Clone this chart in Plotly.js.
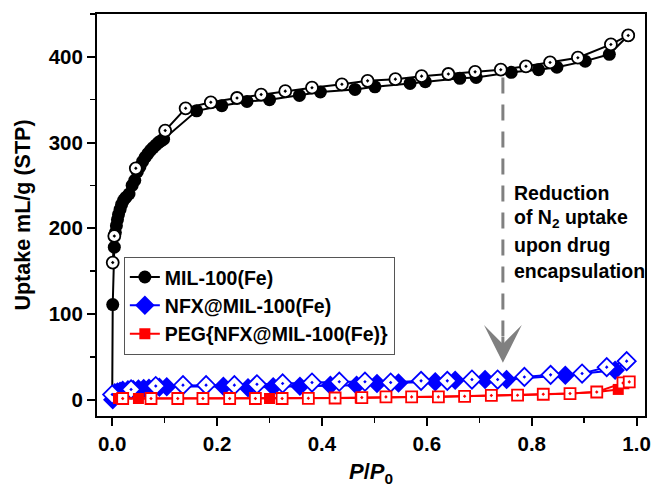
<!DOCTYPE html>
<html>
<head>
<meta charset="utf-8">
<script src="https://cdn.plot.ly/plotly-3.0.1.min.js"></script>
<style>body{margin:0;padding:0;background:#fff;}#chart{width:651px;height:487px;}</style>
</head>
<body>
<div id="chart"></div>
<script>
// MIL-100(Fe): adsorption (filled) and desorption (open)
const milAdsX = [0.0, 0.001, 0.004, 0.006, 0.008, 0.010, 0.012, 0.015, 0.018, 0.022, 0.026, 0.032, 0.038, 0.043, 0.048, 0.053, 0.058, 0.063, 0.068, 0.073, 0.078, 0.083, 0.088, 0.093, 0.098, 0.161, 0.209, 0.257, 0.300, 0.357, 0.397, 0.463, 0.501, 0.568, 0.597, 0.663, 0.694, 0.761, 0.813, 0.848, 0.902, 0.948, 0.984];
const milAdsY = [2, 111, 178, 195, 203, 210, 216, 222, 228, 233, 236, 240, 250, 256, 266, 272, 278, 283, 287, 291, 294, 297, 300, 302, 304, 337, 343, 348, 350, 355, 359, 362, 365, 369, 371, 375, 376, 382, 385, 388, 395, 403, 425];
const milDesX = [0.001, 0.004, 0.045, 0.101, 0.140, 0.188, 0.238, 0.284, 0.330, 0.381, 0.438, 0.487, 0.540, 0.590, 0.641, 0.692, 0.741, 0.789, 0.835, 0.888, 0.951, 0.984];
const milDesY = [160, 191, 270, 314, 340, 347, 352, 356, 360, 364, 368, 372, 374, 377.5, 380, 382.5, 385, 389, 393.5, 399, 414.5, 425];

// NFX@MIL-100(Fe)
const nfxAdsX = [0.001, 0.005, 0.010, 0.015, 0.020, 0.030, 0.040, 0.050, 0.060, 0.070, 0.080, 0.090, 0.104, 0.212, 0.259, 0.307, 0.358, 0.416, 0.466, 0.505, 0.546, 0.616, 0.654, 0.711, 0.752, 0.864, 0.959, 0.981];
const nfxAdsY = [0, 8, 9, 10, 11, 11.5, 12, 12.5, 13, 13.5, 14, 14.5, 15, 15.7, 14, 15, 15.7, 17, 17, 19, 19.6, 21, 22.7, 23.5, 23.5, 28.6, 34.4, 45];
const nfxDesX = [0.0, 0.036, 0.083, 0.135, 0.179, 0.233, 0.276, 0.325, 0.381, 0.433, 0.482, 0.531, 0.589, 0.639, 0.686, 0.735, 0.786, 0.836, 0.896, 0.943, 0.981];
const nfxDesY = [6, 12, 16, 17, 17, 17, 18, 19, 20, 21, 21, 20, 22, 22, 23.5, 23.5, 26.6, 29, 30.5, 38, 45];

// PEG{NFX@MIL-100(Fe)}
const pegAdsX = [0.012, 0.050, 0.125, 0.224, 0.300, 0.374, 0.473, 0.571, 0.672, 0.773, 0.873, 0.924, 0.965, 0.985];
const pegAdsY = [1.4, 1.4, 1.4, 1.4, 1.4, 1.6, 2, 3.3, 4, 5.3, 7.2, 9, 12, 20];
const pegDesX = [0.020, 0.074, 0.125, 0.173, 0.224, 0.273, 0.324, 0.374, 0.425, 0.476, 0.522, 0.571, 0.622, 0.672, 0.723, 0.773, 0.822, 0.873, 0.924, 0.974, 0.986];
const pegDesY = [1.4, 1.4, 1.4, 1.4, 1.4, 1.4, 1.4, 1.6, 2, 2.5, 3.3, 3.3, 3.3, 4, 5, 5.3, 6.4, 7.2, 9, 19.6, 20.8];

const seriesNames = ['MIL-100(Fe)', 'NFX@MIL-100(Fe)', 'PEG{NFX@MIL-100(Fe)}'];
const annotationLines = ['Reduction', 'of N<sub>2</sub> uptake', 'upon drug', 'encapsulation'];
const annotationY = [241, 211, 180, 150];
const arrowX = 0.745, arrowTopY = 376, arrowTipY = 43;

const FONT = 'Arial, "Liberation Sans", Helvetica, sans-serif';

function filled(x, y, name, color, symbol, size) {
  return {x, y, name, type: 'scatter', mode: 'lines+markers',
    line: {color, width: 2},
    marker: {symbol, color, size, line: {width: 0}}};
}
function open(x, y, color, symbol, size) {
  return {x, y, type: 'scatter', mode: 'lines+markers', showlegend: false, hoverinfo: 'skip',
    line: {color, width: 2},
    marker: {symbol, color: '#ffffff', size, line: {color, width: 1.8}}};
}

const data = [
  filled(milAdsX, milAdsY, seriesNames[0], '#000000', 'circle', 13),
  open(milDesX, milDesY, '#000000', 'circle-dot', 12),
  filled(nfxAdsX, nfxAdsY, seriesNames[1], '#0000ff', 'diamond', 15),
  open(nfxDesX, nfxDesY, '#0000ff', 'diamond-dot', 14),
  filled(pegAdsX, pegAdsY, seriesNames[2], '#ff0000', 'square', 11),
  open(pegDesX, pegDesY, '#ff0000', 'square-dot', 11)
];

const annotations = annotationLines.map((t, i) => ({
  x: 0.762, y: annotationY[i], xref: 'x', yref: 'y', text: t, showarrow: false,
  xanchor: 'left', yanchor: 'middle', align: 'left',
  font: {family: FONT, size: 19.5, color: '#000', weight: 'bold'}
}));
annotations.push({
  x: arrowX, y: arrowTipY, xref: 'x', yref: 'y', ax: arrowX, ay: arrowTipY + 32,
  axref: 'x', ayref: 'y', text: '', showarrow: true, arrowhead: 3, arrowsize: 2.1,
  arrowwidth: 3, arrowcolor: '#808080'
});

const layout = {
  width: 651, height: 487,
  margin: {l: 97, r: 6, t: 14, b: 71},
  paper_bgcolor: '#ffffff', plot_bgcolor: '#ffffff',
  font: {family: FONT, size: 20, color: '#000'},
  showlegend: true,
  legend: {x: 0.049, y: 0.396, xanchor: 'left', yanchor: 'top',
    bgcolor: '#ffffff', bordercolor: '#555555', borderwidth: 1,
    font: {family: FONT, size: 19.5, color: '#000', weight: 'bold'}, tracegroupgap: 0},
  xaxis: {range: [-0.029, 1.016], dtick: 0.2, tick0: 0, tickformat: '.1f',
    showgrid: false, zeroline: false, showline: true, linecolor: '#000', linewidth: 2, mirror: true,
    ticks: 'outside', ticklen: 8, tickwidth: 2, tickcolor: '#000',
    minor: {dtick: 0.1, ticks: 'outside', ticklen: 5, tickwidth: 1.5, tickcolor: '#000', showgrid: false},
    tickfont: {family: FONT, size: 20.5, color: '#000', weight: 'bold'},
    title: {text: '<i>P</i>/<i>P</i><sub>0</sub>', font: {family: FONT, size: 22, color: '#000', weight: 'bold'}, standoff: 12}},
  yaxis: {range: [-19, 450], dtick: 100, tick0: 0,
    showgrid: false, zeroline: false, showline: true, linecolor: '#000', linewidth: 2, mirror: true,
    ticks: 'outside', ticklen: 8, tickwidth: 2, tickcolor: '#000',
    minor: {dtick: 50, ticks: 'outside', ticklen: 5, tickwidth: 1.5, tickcolor: '#000', showgrid: false},
    tickfont: {family: FONT, size: 20.5, color: '#000', weight: 'bold'},
    title: {text: 'Uptake mL/g (STP)', font: {family: FONT, size: 21.5, color: '#000', weight: 'bold'}, standoff: 12}},
  shapes: [{type: 'line', xref: 'x', yref: 'y', x0: arrowX, x1: arrowX, y0: arrowTopY, y1: arrowTipY + 25,
    line: {color: '#808080', width: 3, dash: '16px,11px'}}],
  annotations
};

Plotly.newPlot('chart', data, layout, {displayModeBar: false, staticPlot: true});
</script>
</body>
</html>
